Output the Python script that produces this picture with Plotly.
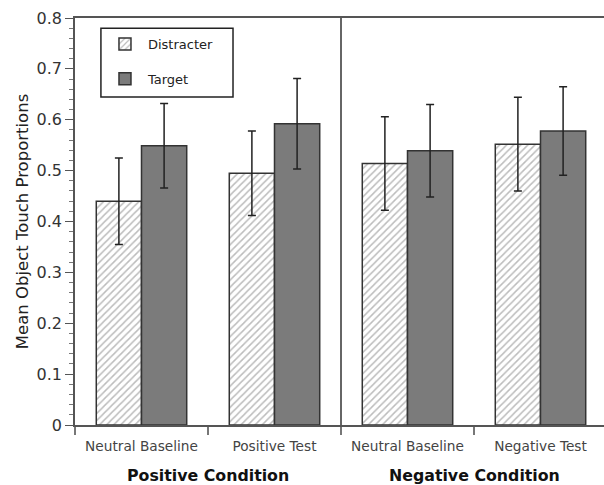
import plotly.graph_objects as go

# ---- data ----
conditions = ["Neutral Baseline", "Positive Test", "Neutral Baseline", "Negative Test"]
groups = ["Positive Condition", "Negative Condition"]
x_pos = [0, 1, 2, 3]
distracter = [0.440, 0.495, 0.514, 0.552]
distracter_err = [0.085, 0.083, 0.092, 0.092]
target = [0.549, 0.592, 0.539, 0.578]
target_err = [0.083, 0.089, 0.091, 0.087]
y_ticks = [0, 0.1, 0.2, 0.3, 0.4, 0.5, 0.6, 0.7, 0.8]
y_ticklabels = ["0", "0.1", "0.2", "0.3", "0.4", "0.5", "0.6", "0.7", "0.8"]

FONT = "DejaVu Sans"
AXC = "#555555"

fig = go.Figure()
fig.add_trace(go.Bar(
    x=x_pos, y=distracter, name="Distracter", legendgroup="d",
    marker=dict(color="white", line=dict(color="#333333", width=1.5),
                pattern=dict(shape="/", fgcolor="#7a7a7a", bgcolor="white",
                             size=5, solidity=0.3, fillmode="overlay")),
    error_y=dict(type="data", array=distracter_err, color="#222222",
                 thickness=1.5, width=4),
))
fig.add_trace(go.Bar(
    x=x_pos, y=target, name="Target", legendgroup="t",
    marker=dict(color="#7b7b7b", line=dict(color="#333333", width=1.5)),
    error_y=dict(type="data", array=target_err, color="#222222",
                 thickness=1.5, width=4),
))

fig.update_layout(
    width=604, height=485,
    margin=dict(l=75, r=0, t=18, b=60),
    paper_bgcolor="white", plot_bgcolor="white",
    barmode="group", bargap=0.32, bargroupgap=0,
    font=dict(family=FONT, color="#222222"),
    legend=dict(x=0.051, y=0.973, xanchor="left", yanchor="top",
                borderwidth=0, bgcolor="rgba(0,0,0,0)",
                font=dict(size=13, family=FONT), traceorder="grouped",
                tracegroupgap=15, itemwidth=36),
    showlegend=True,
)

fig.update_xaxes(
    range=[-0.5, -0.5 + 529 / 133], tickmode="array", tickvals=x_pos,
    ticktext=conditions, ticks="", ticklabelstandoff=8,
    tickfont=dict(size=13.7, family=FONT, color="#444444"),
    showline=True, linecolor=AXC, linewidth=1.5, mirror=True,
    showgrid=False, zeroline=False,
    minor=dict(ticks="outside", ticklen=8, tick0=-0.5, dtick=1,
               tickcolor="#777777", tickwidth=1.5, showgrid=False),
)
fig.update_yaxes(
    range=[0, 0.8], tickmode="array", tickvals=y_ticks, ticktext=y_ticklabels,
    ticks="outside", ticklen=8, tickcolor=AXC, tickwidth=1.2,
    tickfont=dict(size=16, family=FONT, color="#333333"),
    showline=True, linecolor=AXC, linewidth=1.5, mirror=False,
    showgrid=False, zeroline=False,
    minor=dict(ticks="outside", ticklen=4, dtick=0.02, tick0=0,
               tickcolor="#777777", tickwidth=1, showgrid=False),
    title=dict(text="Mean Object Touch Proportions",
               font=dict(size=16.5, family=FONT, color="#222222"), standoff=4),
)

# legend frame
fig.add_shape(type="rect", xref="paper", yref="paper",
              x0=0.049, x1=0.2987, y0=0.806, y1=0.975,
              line=dict(color="#222222", width=1.5), fillcolor="white", layer="below")

# divider between the two conditions
fig.add_shape(type="line", xref="x", yref="paper", x0=1.5, x1=1.5, y0=0, y1=1,
              line=dict(color="#666666", width=2))

# condition group labels
for gi, g in enumerate(groups):
    fig.add_annotation(x=(x_pos[2 * gi] + x_pos[2 * gi + 1]) / 2, xref="x",
                       y=-0.123, yref="paper", yanchor="middle",
                       text="<b>" + g + "</b>", showarrow=False,
                       font=dict(size=15.8, family=FONT, color="#111111"))

fig.write_html("out.html")
